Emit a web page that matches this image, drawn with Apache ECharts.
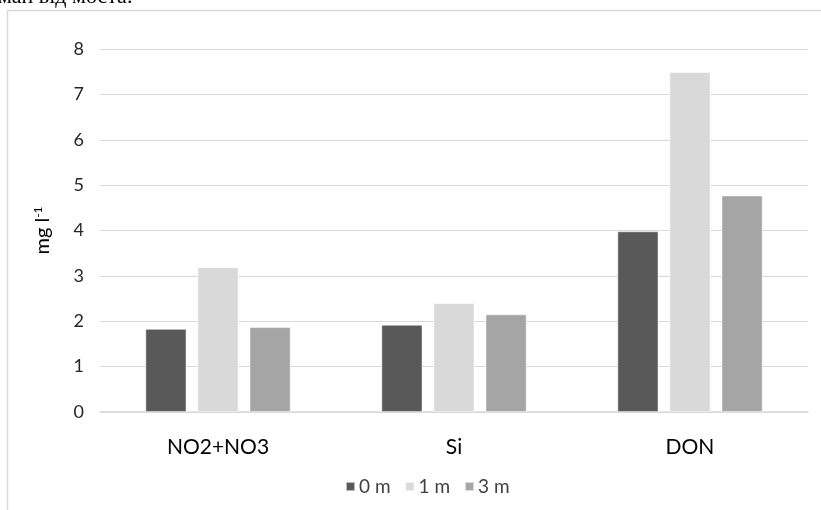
<!DOCTYPE html>
<html>
<head>
<meta charset="utf-8">
<script src="https://cdn.jsdelivr.net/npm/echarts@6/dist/echarts.min.js"></script>
<style>
html,body{margin:0;padding:0;background:#fff;}
#c{width:821px;height:510px;}
</style>
</head>
<body>
<div id="c"></div>
<script>
var categories = ['NO2+NO3', 'Si', 'DON'];
var seriesNames = ['0 m', '1 m', '3 m'];
var values0m = [1.83, 1.92, 3.98];
var values1m = [3.19, 2.40, 7.49];
var values3m = [1.87, 2.15, 4.77];
var yTicks = [0, 8, 1];
var colors = ['#595959', '#d9d9d9', '#a5a5a5'];

var chart = echarts.init(document.getElementById('c'), null, {renderer: 'canvas'});
var font = 'Lato, "Open Sans", sans-serif';
function bar(name, data, color) {
  return {
    name: name, type: 'bar', data: data, barWidth: 41, barGap: '27%',
    itemStyle: {color: color, borderColor: 'rgba(255,255,255,0.6)', borderWidth: 0.8},
    animation: false
  };
}
chart.setOption({
  animation: false,
  backgroundColor: '#fff',
  graphic: [
    {type: 'rect', shape: {x: 7.5, y: 10.5, width: 900, height: 600},
     style: {fill: null, stroke: '#d9d9d9', lineWidth: 1.5}, z: -1},
    {type: 'text', x: -2, y: -14,
     style: {text: 'ман від моста.', font: '22px "Liberation Serif", serif', fill: '#000',
             verticalAlign: 'top', align: 'left'}}
  ],
  grid: {left: 100, right: 13, top: 49, bottom: 98},
  legend: {
    left: 340, top: 472, icon: 'rect', itemWidth: 9, itemHeight: 9, itemGap: 14,
    data: seriesNames,
    textStyle: {fontFamily: font, fontSize: 19, color: '#404040', padding: [0, 0, 0, -1]}
  },
  xAxis: {
    type: 'category', data: categories,
    axisLine: {lineStyle: {color: '#d9d9d9', width: 1.5}},
    axisTick: {show: false},
    axisLabel: {fontFamily: font, fontSize: 21, color: '#000', margin: 25}
  },
  yAxis: {
    type: 'value', min: yTicks[0], max: yTicks[1], interval: yTicks[2],
    name: 'mg l{s|-1}', nameLocation: 'middle', nameGap: 46, nameRotate: 90,
    nameTextStyle: {fontFamily: font, fontSize: 20, color: '#000',
      rich: {s: {fontSize: 12, verticalAlign: 'top', padding: [0, 0, 10, 0], color: '#000', fontFamily: font}}},
    axisLine: {show: false},
    axisTick: {show: false},
    splitLine: {lineStyle: {color: '#d9d9d9', width: 1.2}},
    axisLabel: {fontFamily: font, fontSize: 18, color: '#262626', margin: 16}
  },
  series: [
    bar(seriesNames[0], values0m, colors[0]),
    bar(seriesNames[1], values1m, colors[1]),
    bar(seriesNames[2], values3m, colors[2])
  ]
});
</script>
</body>
</html>
